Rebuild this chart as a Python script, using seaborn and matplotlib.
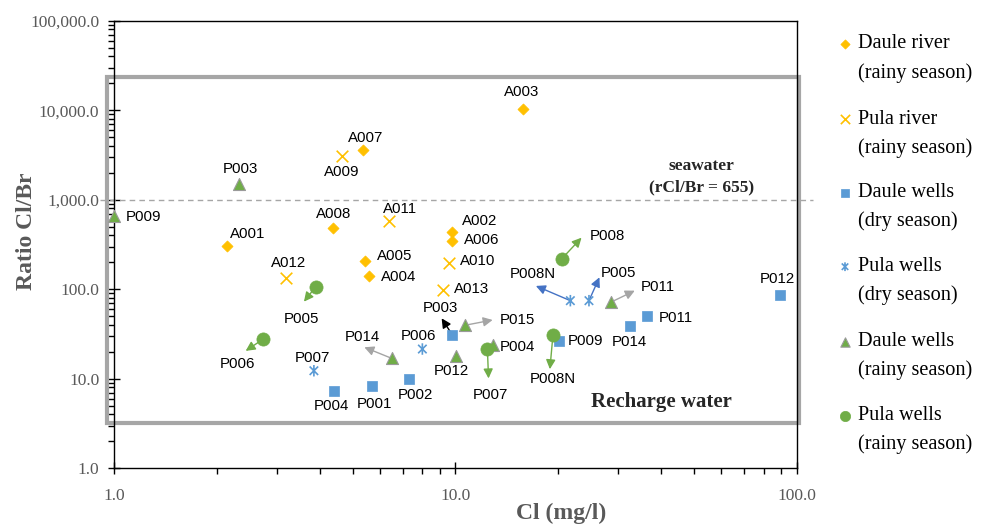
import matplotlib
matplotlib.use("Agg")
import matplotlib.pyplot as plt
import seaborn as sns
import pandas as pd
from matplotlib.path import Path
from matplotlib.patches import Rectangle
from matplotlib.ticker import FixedLocator, FuncFormatter, LogLocator, NullFormatter

# ---------------- data ----------------
daule_river_id = ["A001", "A002", "A003", "A004", "A005", "A006", "A007", "A008"]
daule_river_cl = [2.14, 9.77, 15.8, 5.59, 5.44, 9.77, 5.37, 4.39]
daule_river_ratio = [307, 437, 10350, 140, 207, 347, 3600, 488]

pula_river_id = ["A009", "A010", "A011", "A012", "A013"]
pula_river_cl = [4.64, 9.59, 6.37, 3.20, 9.21]
pula_river_ratio = [3085, 195, 580, 133, 98.2]

daule_dry_id = ["P001", "P002", "P003", "P004", "P009", "P011", "P012", "P014"]
daule_dry_cl = [5.69, 7.32, 9.79, 4.42, 20.1, 36.5, 89.2, 32.4]
daule_dry_ratio = [8.31, 9.87, 30.9, 7.25, 26.7, 50.3, 86.4, 38.9]

pula_dry_id = ["P005", "P006", "P007", "P008N"]
pula_dry_cl = [24.6, 8.0, 3.85, 21.7]
pula_dry_ratio = [74.6, 21.5, 12.3, 74.6]

daule_rainy_id = ["P003", "P004", "P009", "P011", "P012", "P014", "P015"]
daule_rainy_cl = [2.33, 12.85, 1.0, 28.5, 10.03, 6.51, 10.66]
daule_rainy_ratio = [1502, 23.9, 659, 71.6, 18.0, 16.9, 39.6]

pula_rainy_id = ["P005", "P006", "P007", "P008", "P008N"]
pula_rainy_cl = [3.90, 2.74, 12.4, 20.5, 19.3]
pula_rainy_ratio = [107, 27.9, 21.7, 220, 31.1]

# arrows: (group, id) -> end point
arrow_group = ["pula_rainy", "pula_rainy", "pula_rainy", "pula_rainy", "pula_rainy",
               "pula_dry", "pula_dry", "daule_rainy", "daule_rainy", "daule_rainy", "daule_dry"]
arrow_id = ["P008", "P005", "P006", "P007", "P008N", "P008N", "P005", "P011", "P015", "P014", "P003"]
arrow_end_cl = [23.4, 3.60, 2.43, 12.5, 18.9, 17.2, 26.4, 33.5, 12.85, 5.41, 9.11]
arrow_end_ratio = [377, 72.7, 20.5, 10.1, 12.8, 109, 136, 96.5, 45.4, 22.5, 47.4]

seawater_ratio = 1000
x_ticks = [1, 10, 100]
y_ticks = [1, 10, 100, 1000, 10000, 100000]

# ---------------- styles ----------------
ORANGE = "#FFC000"
BLUE = "#5B9BD5"
DBLUE = "#4472C4"
GREEN = "#70AD47"
GRAY = "#A5A5A5"
TXT = "#262626"
TICKC = "#595959"
arrow_colors = {"pula_rainy": GREEN, "pula_dry": DBLUE, "daule_rainy": GRAY, "daule_dry": "black"}

star_path = Path([(-1, -1), (1, 1), (-1, 1), (1, -1), (0, -1.35), (0, 1.35)],
                 [Path.MOVETO, Path.LINETO, Path.MOVETO, Path.LINETO, Path.MOVETO, Path.LINETO])

groups = {
    "daule_river": dict(ids=daule_river_id, x=daule_river_cl, y=daule_river_ratio,
                        kw=dict(marker="D", s=32, color=ORANGE, edgecolor=ORANGE, linewidth=0.5),
                        label="Daule river\n(rainy season)"),
    "pula_river": dict(ids=pula_river_id, x=pula_river_cl, y=pula_river_ratio,
                       kw=dict(marker="x", s=70, color=ORANGE, linewidth=1.2),
                       label="Pula river\n(rainy season)"),
    "daule_dry": dict(ids=daule_dry_id, x=daule_dry_cl, y=daule_dry_ratio,
                      kw=dict(marker="s", s=55, color=BLUE, edgecolor=BLUE, linewidth=0.5),
                      label="Daule wells\n(dry season)"),
    "pula_dry": dict(ids=pula_dry_id, x=pula_dry_cl, y=pula_dry_ratio,
                     kw=dict(marker=star_path, s=68, facecolor="none", edgecolor=BLUE, linewidth=1.2),
                     label="Pula wells\n(dry season)"),
    "daule_rainy": dict(ids=daule_rainy_id, x=daule_rainy_cl, y=daule_rainy_ratio,
                        kw=dict(marker="^", s=75, color=GREEN, edgecolor="#9A9A9A", linewidth=0.8),
                        label="Daule wells\n(rainy season)"),
    "pula_rainy": dict(ids=pula_rainy_id, x=pula_rainy_cl, y=pula_rainy_ratio,
                       kw=dict(marker="o", s=90, color=GREEN, edgecolor=GREEN, linewidth=0.5),
                       label="Pula wells\n(rainy season)"),
}

# label offsets in pixels relative to the point (x right, y up)
label_offsets = {
    "daule_river": {"A001": (21, 12), "A002": (28, 11), "A003": (-2, 17), "A004": (29, -1),
                    "A005": (29, 5), "A006": (30, 1), "A007": (2, 12), "A008": (0, 14)},
    "pula_river": {"A009": (0, -16), "A010": (28, 2), "A011": (11, 12), "A012": (2, 15), "A013": (28, 1)},
    "daule_dry": {"P001": (3, -18), "P002": (6, -16), "P003": (-12, 27), "P004": (-3, -15),
                  "P009": (26, 0), "P011": (28, -2), "P012": (-3, 16), "P014": (0, -16)},
    "pula_dry": {"P005": (29, 28), "P006": (-4, 13), "P007": (-1, 13), "P008N": (-38, 27)},
    "daule_rainy": {"P003": (1, 15), "P004": (25, -2), "P009": (30, -1), "P011": (47, 15),
                    "P012": (-5, -15), "P014": (-29, 21), "P015": (52, 5)},
    "pula_rainy": {"P005": (-14, -32), "P006": (-26, -25), "P007": (3, -46), "P008": (45, 23),
                   "P008N": (0, -44)},
}

sns.set_style("ticks")
plt.rcParams["font.family"] = ["Liberation Serif", "DejaVu Serif"]

fig = plt.figure(figsize=(9.91, 5.30), dpi=100)
ax = fig.add_axes([0.1150, 0.1164, 0.6892, 0.8445])
ax.set_xscale("log")
ax.set_yscale("log")

# arrows
for g, pid, ex, ey in zip(arrow_group, arrow_id, arrow_end_cl, arrow_end_ratio):
    d = groups[g]
    i = d["ids"].index(pid)
    ax.annotate("", xy=(ex, ey), xytext=(d["x"][i], d["y"][i]),
                arrowprops=dict(arrowstyle="-|>", color=arrow_colors[g], lw=1.0,
                                shrinkA=0, shrinkB=0, mutation_scale=14),
                zorder=2)

# points
for name, d in groups.items():
    df = pd.DataFrame({"Cl": d["x"], "ratio": d["y"]})
    sns.scatterplot(data=df, x="Cl", y="ratio", ax=ax, zorder=3, clip_on=False, **d["kw"])
    for pid, xv, yv in zip(d["ids"], d["x"], d["y"]):
        off = label_offsets[name][pid]
        ax.annotate(pid, (xv, yv), xytext=off, textcoords="offset pixels",
                    ha="center", va="center", fontsize=10.8, color="black",
                    family=["Liberation Sans", "DejaVu Sans"], zorder=4)

ax.set_xlim(x_ticks[0], x_ticks[-1])
ax.set_ylim(y_ticks[0], y_ticks[-1])

# seawater line
ax.axhline(seawater_ratio, xmin=-0.021, xmax=1.024, color="#A6A6A6", lw=1.0,
           ls=(0, (4, 3)), clip_on=False, zorder=1)

# recharge rectangle
ax.add_patch(Rectangle((-0.0098, 0.101), 1.0132, 0.773, transform=ax.transAxes, fill=False,
                       edgecolor="#A6A6A6", lw=3.0, clip_on=False, zorder=1))

ax.text(0.860, 0.675, "seawater", transform=ax.transAxes, ha="center", va="center",
        fontsize=12.5, fontweight="bold", color=TXT)
ax.text(0.860, 0.628, "(rCl/Br = 655)", transform=ax.transAxes, ha="center", va="center",
        fontsize=12.5, fontweight="bold", color=TXT)
ax.text(0.802, 0.149, "Recharge water", transform=ax.transAxes, ha="center", va="center",
        fontsize=15, fontweight="bold", color=TXT)

# axes styling
ax.xaxis.set_major_locator(FixedLocator(x_ticks))
ax.yaxis.set_major_locator(FixedLocator(y_ticks))
ax.xaxis.set_minor_locator(LogLocator(base=10, subs=range(2, 10), numticks=20))
ax.yaxis.set_minor_locator(LogLocator(base=10, subs=range(2, 10), numticks=20))
ax.xaxis.set_minor_formatter(NullFormatter())
ax.yaxis.set_minor_formatter(NullFormatter())
fmt = FuncFormatter(lambda v, p: f"{v:,.1f}")
ax.xaxis.set_major_formatter(fmt)
ax.yaxis.set_major_formatter(fmt)
ax.tick_params(which="major", direction="inout", length=9, width=1, color="black",
               labelsize=12.5, labelcolor=TICKC, pad=6)
ax.tick_params(which="minor", direction="out", length=4, width=1, color="black")
ax.tick_params(axis="x", which="major", pad=10)
for sp in ax.spines.values():
    sp.set_visible(True)
    sp.set_color("black")
    sp.set_linewidth(1.0)

ax.set_xlabel("Cl (mg/l)", fontsize=17, fontweight="bold", color=TICKC)
ax.set_ylabel("Ratio Cl/Br", fontsize=17, fontweight="bold", color=TICKC)
ax.xaxis.set_label_coords(0.654, -0.078)
ax.yaxis.set_label_coords(-0.113, 0.53)

# legend (manual, marker aligned with first line)
leg_y1 = [44, 119.3, 192.7, 266.7, 341.7, 416]
leg_y2 = [73.3, 147.7, 221, 295, 370, 444]
leg_sizes = {"daule_river": 22, "pula_river": 45, "daule_dry": 38, "pula_dry": 40,
             "daule_rainy": 45, "pula_rainy": 55}
for (name, d), y1, y2 in zip(groups.items(), leg_y1, leg_y2):
    kw = dict(d["kw"])
    kw["s"] = leg_sizes[name]
    ax.scatter([845 / 991], [1 - y1 / 530], transform=fig.transFigure, clip_on=False, **kw)
    l1, l2 = d["label"].split("\n")
    fig.text(858 / 991, 1 - y1 / 530, l1, ha="left", va="center", fontsize=14.6, color="black")
    fig.text(858 / 991, 1 - y2 / 530, l2, ha="left", va="center", fontsize=14.6, color="black")

fig.savefig("out.png", dpi=100)
